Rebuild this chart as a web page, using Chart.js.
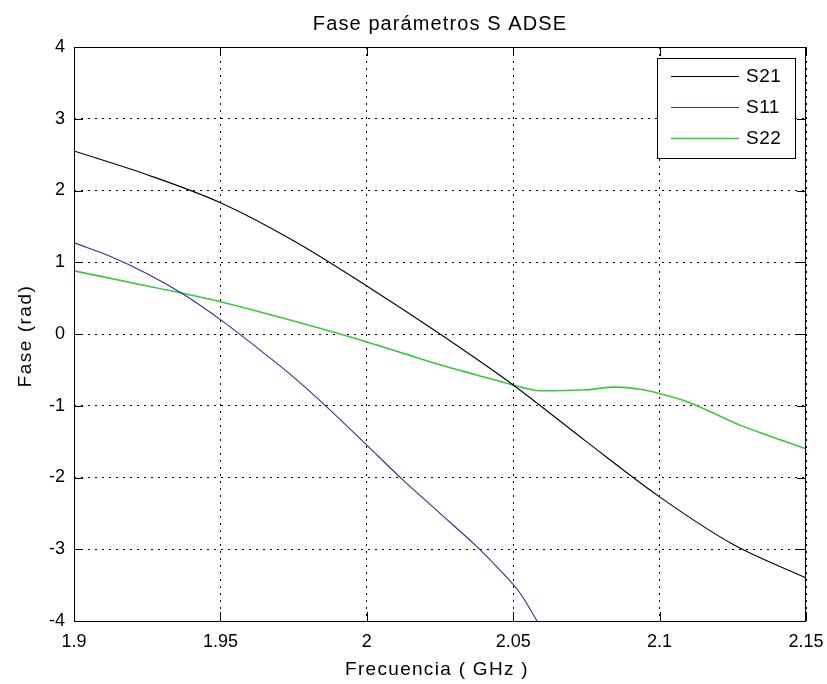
<!DOCTYPE html>
<html>
<head>
<meta charset="utf-8">
<script src="https://cdn.jsdelivr.net/npm/chart.js@4.4.1/dist/chart.umd.min.js"></script>
<style>
  html, body { margin: 0; padding: 0; background: #fff; }
  #wrap { width: 827px; height: 684px; position: relative; }
</style>
</head>
<body>
<div id="wrap"><canvas id="c" width="827" height="684"></canvas></div>
<script>
// Phase of the S parameters (rad) against frequency (GHz)
const chartTitle = 'Fase parámetros S ADSE';
const xTitle = 'Frecuencia ( GHz )';
const yTitle = 'Fase (rad)';

const seriesNames = ['S21', 'S11', 'S22'];
const seriesColors = ['#000000', '#30308c', '#3cc83c'];

const freqS21  = [1.9, 1.925, 1.95, 1.975, 2.0, 2.025, 2.05, 2.075, 2.1, 2.125, 2.15];
const phaseS21 = [2.55, 2.22, 1.83, 1.30, 0.67, 0.0, -0.71, -1.5, -2.27, -2.93, -3.4];

const freqS11  = [1.9, 1.9125, 1.925, 1.9375, 1.95, 1.9625, 1.975, 1.9875, 2.0, 2.0125, 2.025, 2.0375, 2.045, 2.0525, 2.058, 2.06];
const phaseS11 = [1.27, 1.08, 0.84, 0.55, 0.2, -0.19, -0.6, -1.06, -1.55, -2.04, -2.5, -2.96, -3.27, -3.62, -3.99, -4.12];

const freqS22  = [1.9, 1.925, 1.95, 1.975, 2.0, 2.0125, 2.025, 2.0375, 2.05, 2.0592, 2.074, 2.0852, 2.0933, 2.1, 2.1092, 2.1274, 2.1375, 2.15];
const phaseS22 = [0.88, 0.67, 0.45, 0.18, -0.11, -0.27, -0.43, -0.57, -0.71, -0.79, -0.78, -0.74, -0.77, -0.83, -0.94, -1.27, -1.42, -1.6];

const xTicks = [1.9, 1.95, 2.0, 2.05, 2.1, 2.15];
const xTickLabels = ['1.9', '1.95', '2', '2.05', '2.1', '2.15'];
const yTicks = [-4, -3, -2, -1, 0, 1, 2, 3, 4];
const yTickLabels = ['-4', '-3', '-2', '-1', '0', '1', '2', '3', '4'];

const FONT = '"Liberation Sans", Arial, sans-serif';

function pts(xs, ys) { return xs.map((x, i) => ({ x: x, y: ys[i] })); }

const seriesData = [pts(freqS21, phaseS21), pts(freqS11, phaseS11), pts(freqS22, phaseS22)];

function spacedText(ctx, text, x, y, spacing) {
  if ('letterSpacing' in ctx) {
    ctx.letterSpacing = spacing + 'px';
    ctx.fillText(text, x, y);
    ctx.letterSpacing = '0px';
  } else {
    ctx.fillText(text, x, y);
  }
}

// Box, inward ticks, titles and the legend drawn over the plot
const framePlugin = {
  id: 'frame',
  afterDatasetsDraw(chart) {
    const { ctx, chartArea: a, scales } = chart;
    const xs = scales.x, ys = scales.y;
    ctx.save();
    ctx.strokeStyle = '#000';
    ctx.lineWidth = 1;
    ctx.setLineDash([]);
    ctx.strokeRect(Math.round(a.left) + 0.5, Math.round(a.top) + 0.5,
                   Math.round(a.right - a.left) - 1, Math.round(a.bottom - a.top));
    const tl = 9;
    ctx.beginPath();
    xTicks.forEach(v => {
      const px = Math.round(xs.getPixelForValue(v)) + 0.5;
      ctx.moveTo(px, a.bottom); ctx.lineTo(px, a.bottom - tl);
      ctx.moveTo(px, a.top); ctx.lineTo(px, a.top + tl);
    });
    yTicks.forEach(v => {
      const py = Math.round(ys.getPixelForValue(v)) + 0.5;
      ctx.moveTo(a.left, py); ctx.lineTo(a.left + tl, py);
      ctx.moveTo(a.right, py); ctx.lineTo(a.right - tl, py);
    });
    ctx.stroke();

    // titles
    ctx.fillStyle = '#000';
    ctx.textAlign = 'center';
    ctx.textBaseline = 'alphabetic';
    ctx.font = '20px ' + FONT;
    spacedText(ctx, chartTitle, 440, 30, 1.1);
    ctx.font = '19px ' + FONT;
    spacedText(ctx, xTitle, 437, 675, 1.3);
    ctx.save();
    ctx.translate(31, 336);
    ctx.rotate(-Math.PI / 2);
    spacedText(ctx, yTitle, 0, 0, 1.5);
    ctx.restore();

    // legend
    const lx = 657, ly = 58, lw = 138, lh = 100;
    ctx.fillStyle = '#fff';
    ctx.fillRect(lx, ly, lw, lh);
    ctx.strokeStyle = '#000';
    ctx.strokeRect(lx + 0.5, ly + 0.5, lw, lh);
    const rows = [76, 107, 138];
    ctx.font = '19px ' + FONT;
    ctx.textAlign = 'left';
    ctx.textBaseline = 'middle';
    chart.data.datasets.forEach((ds, i) => {
      ctx.strokeStyle = ds.borderColor;
      ctx.lineWidth = ds.borderWidth;
      ctx.beginPath();
      ctx.moveTo(671, rows[i] + 0.5);
      ctx.lineTo(739, rows[i] + 0.5);
      ctx.stroke();
      ctx.fillStyle = '#000';
      spacedText(ctx, ds.label, 746, rows[i] + 1, 0.5);
    });
    ctx.restore();
  }
};

new Chart(document.getElementById('c'), {
  type: 'line',
  data: {
    datasets: seriesNames.map((name, i) => ({
      label: name,
      data: seriesData[i],
      borderColor: seriesColors[i],
      backgroundColor: seriesColors[i],
      borderWidth: i === 2 ? 1.6 : 1.1,
      pointRadius: 0,
      fill: false,
      cubicInterpolationMode: 'monotone'
    }))
  },
  options: {
    responsive: false,
    animation: false,
    devicePixelRatio: 1,
    layout: { padding: { left: 0, top: 47, right: 21, bottom: 0 } },
    plugins: { legend: { display: false }, title: { display: false }, tooltip: { enabled: false } },
    scales: {
      x: {
        type: 'linear',
        min: 1.9, max: 2.15,
        afterFit(s) { s.height = 63; s.paddingLeft = 0; s.paddingRight = 0; },
        afterBuildTicks(s) { s.ticks = xTicks.map(v => ({ value: v })); },
        grid: { color: '#000', lineWidth: 1, drawTicks: false },
        border: { display: false, dash: [2, 5] },
        ticks: {
          padding: 10,
          color: '#000',
          font: { family: FONT, size: 18 },
          maxRotation: 0,
          callback: (v) => { const k = xTicks.findIndex(t => Math.abs(t - v) < 1e-9); return k >= 0 ? xTickLabels[k] : ''; }
        }
      },
      y: {
        type: 'linear',
        min: -4, max: 4,
        afterFit(s) { s.width = 74; s.paddingTop = 0; s.paddingBottom = 0; },
        afterBuildTicks(s) { s.ticks = yTicks.map(v => ({ value: v })); },
        grid: { color: '#000', lineWidth: 1, drawTicks: false },
        border: { display: false, dash: [2, 5] },
        ticks: {
          padding: 9,
          color: '#000',
          font: { family: FONT, size: 18 },
          callback: (v) => { const k = yTicks.indexOf(v); return k >= 0 ? yTickLabels[k] : ''; }
        }
      }
    }
  },
  plugins: [framePlugin]
});
</script>
</body>
</html>
